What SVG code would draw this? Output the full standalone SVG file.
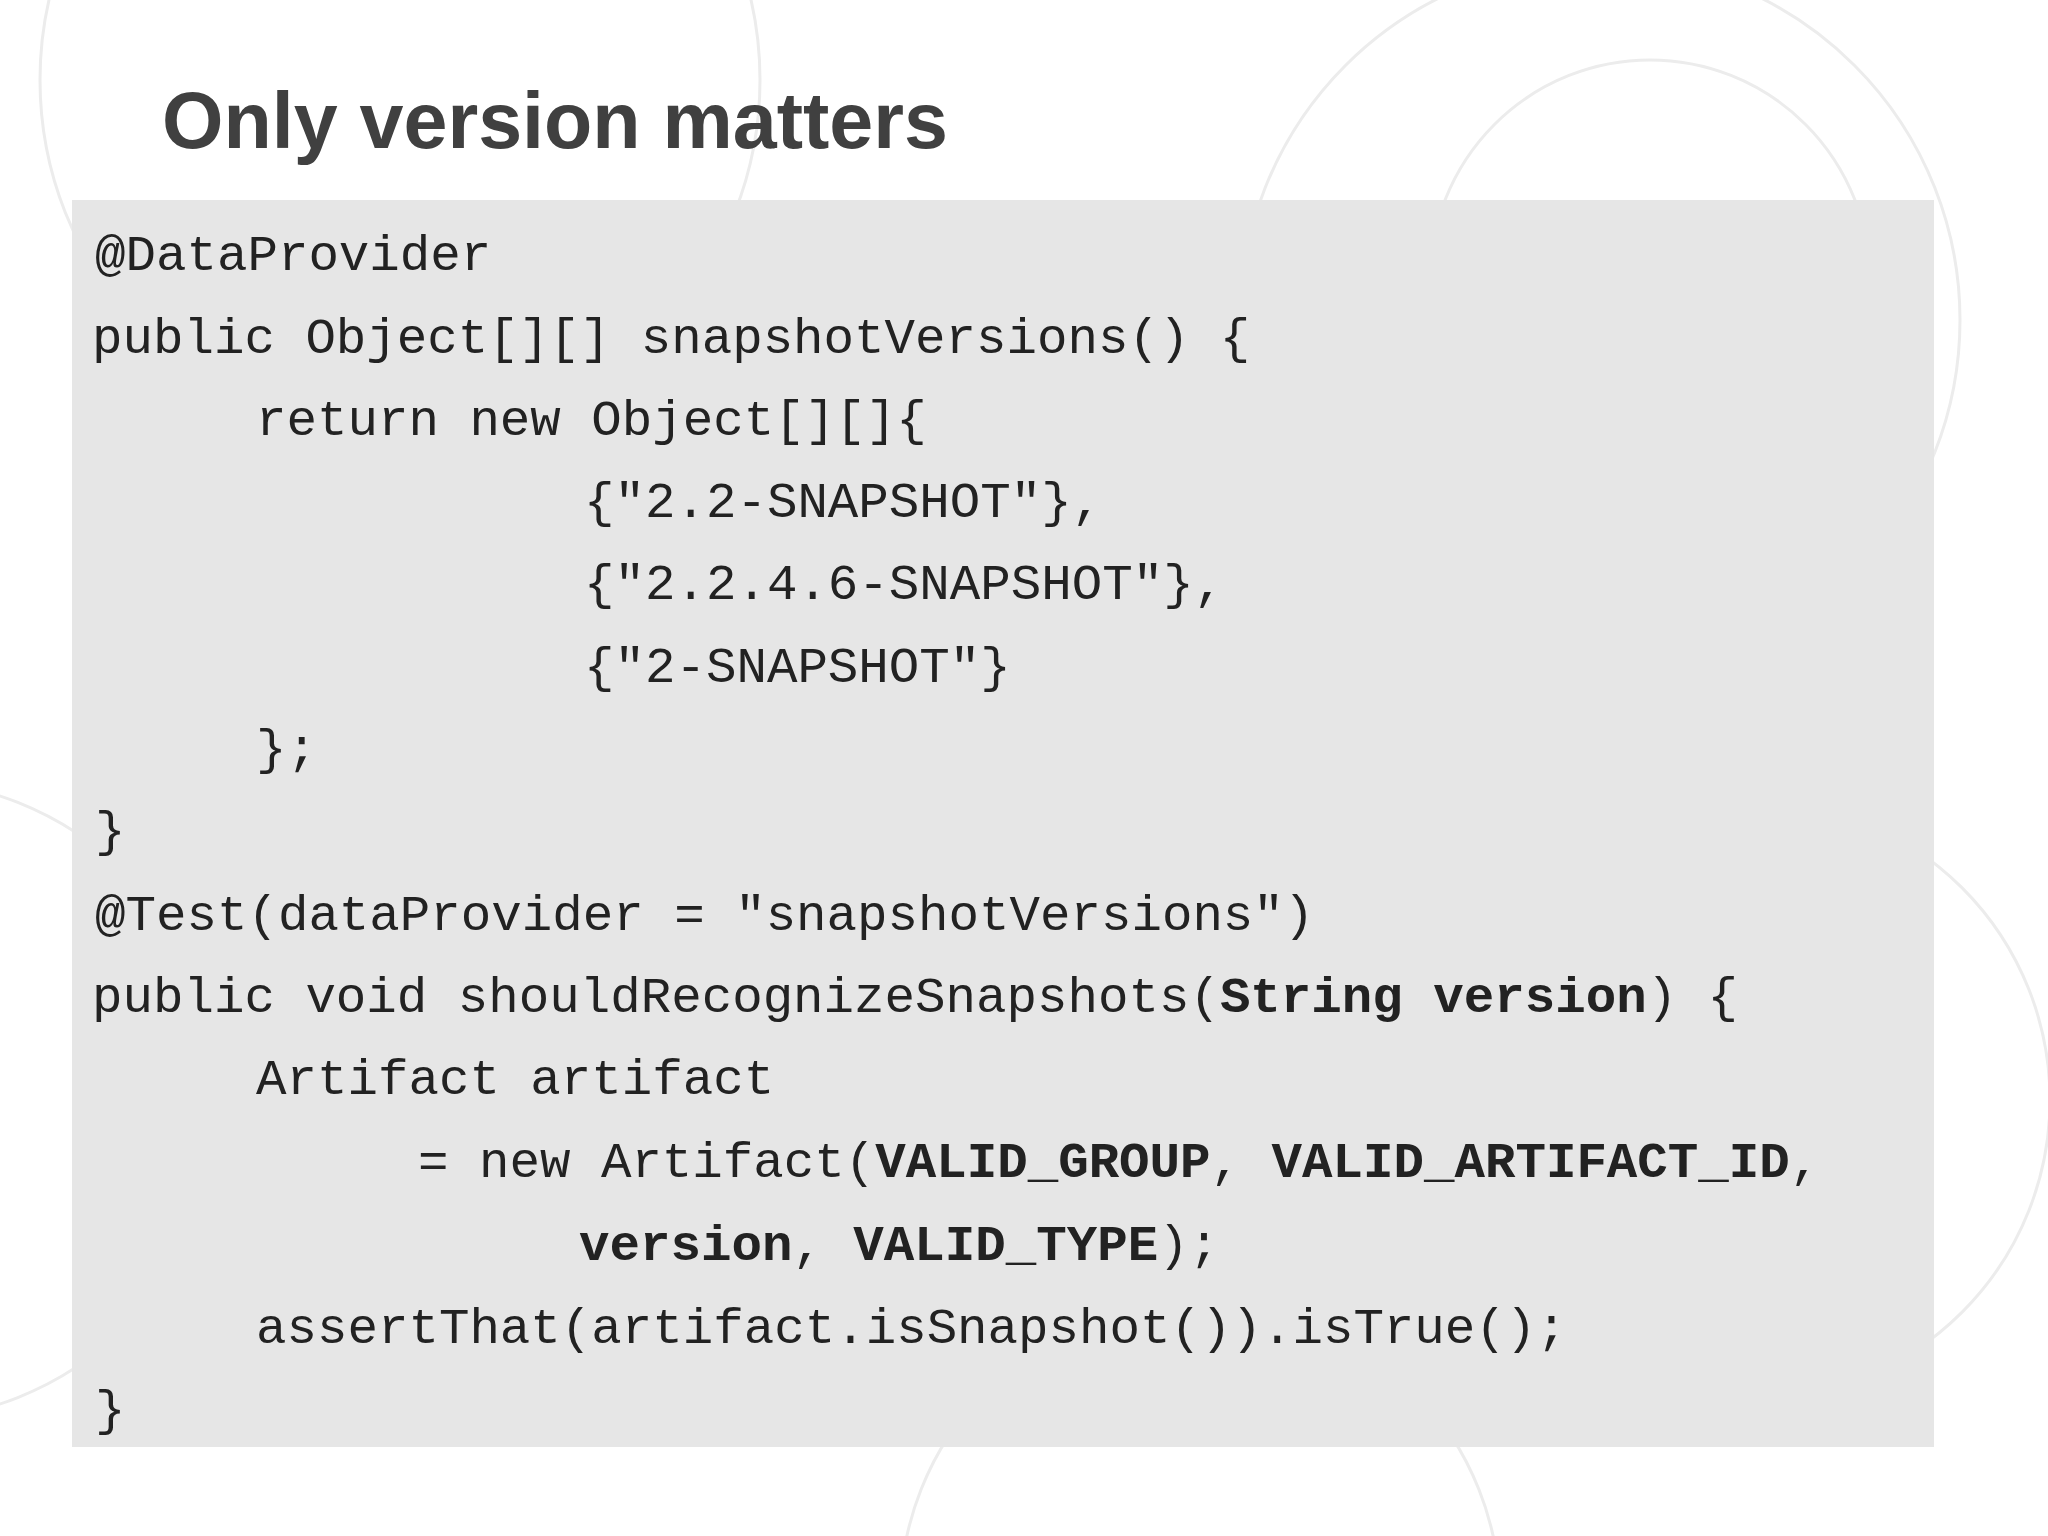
<svg xmlns="http://www.w3.org/2000/svg" width="2048" height="1536" viewBox="0 0 2048 1536">
<style>
.c{font-family:"Liberation Mono","Courier New",monospace;font-size:50.8px;fill:#222;white-space:pre}
.b{font-weight:bold}
.d{fill:none;stroke:#ececec;stroke-width:3}
</style>
<rect width="2048" height="1536" fill="#fff"/>
<g id="bg">
<circle class="d" cx="400" cy="80" r="360"/>
<circle class="d" cx="1600" cy="320" r="360"/>
<circle class="d" cx="1650" cy="280" r="220"/>
<circle class="d" cx="1750" cy="1100" r="300"/>
<circle class="d" cx="1200" cy="1600" r="300"/>
<circle class="d" cx="-100" cy="1100" r="320"/>
</g>
<text id="title" x="162" y="148" font-family="Liberation Sans,Arial,sans-serif" font-weight="bold" font-size="79" fill="#404040">Only version matters</text>
<g id="code">
<rect x="72" y="200" width="1862" height="1247" fill="#e6e6e6"/>
<text class="c" x="95" y="270">@DataProvider</text>
<text class="c" x="92" y="353">public Object[][] snapshotVersions() {</text>
<text class="c" x="256" y="435">return new Object[][]{</text>
<text class="c" x="584" y="517">{"2.2-SNAPSHOT"},</text>
<text class="c" x="584" y="599">{"2.2.4.6-SNAPSHOT"},</text>
<text class="c" x="584" y="682">{"2-SNAPSHOT"}</text>
<text class="c" x="256" y="764">};</text>
<text class="c" x="95" y="846">}</text>
<text class="c" x="95" y="930">@Test(dataProvider = "snapshotVersions")</text>
<text class="c" x="92" y="1012">public void shouldRecognizeSnapshots(<tspan class="b">String version</tspan>) {</text>
<text class="c" x="256" y="1094">Artifact artifact</text>
<text class="c" x="418" y="1177">= new Artifact(<tspan class="b">VALID_GROUP</tspan>, <tspan class="b">VALID_ARTIFACT_ID</tspan>,</text>
<text class="c" x="579" y="1260"><tspan class="b">version</tspan>, <tspan class="b">VALID_TYPE</tspan>);</text>
<text class="c" x="256" y="1343">assertThat(artifact.isSnapshot()).isTrue();</text>
<text class="c" x="95" y="1425">}</text>
</g>
</svg>
